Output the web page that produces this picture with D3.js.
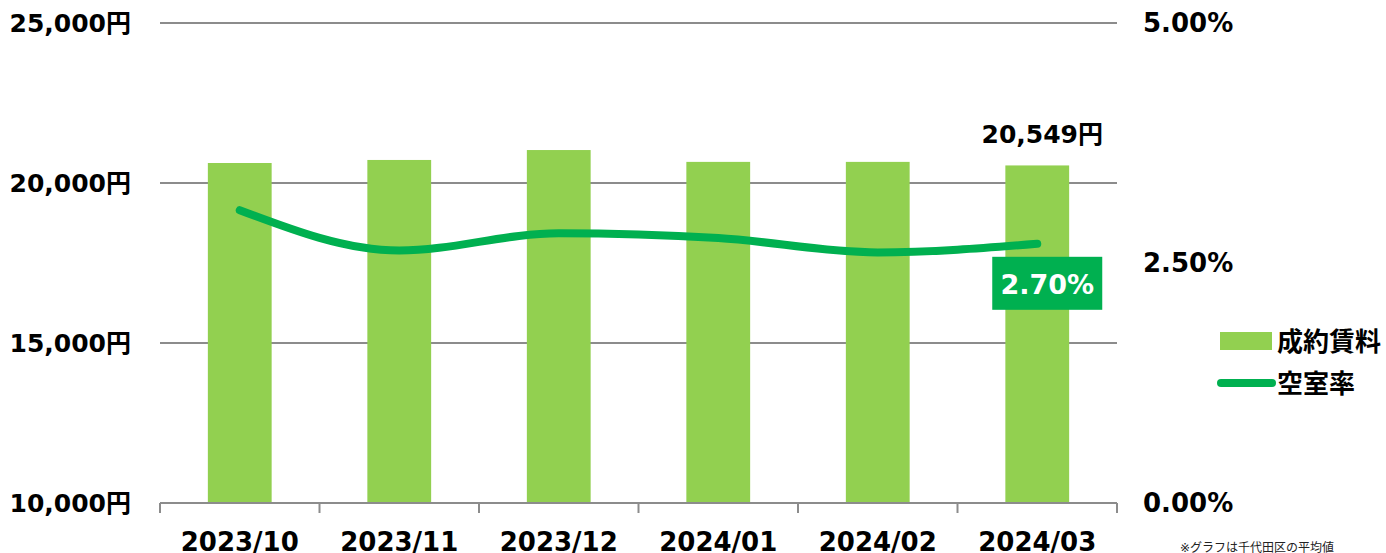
<!DOCTYPE html>
<html lang="ja">
<head>
<meta charset="UTF-8">
<title>成約賃料・空室率</title>
<style>
  body { margin: 0; background: #fff; }
  svg text { font-family: "DejaVu Sans", Verdana, "Noto Sans CJK JP", sans-serif; font-weight: bold; }
</style>
</head>
<body>
<div id="chart"></div>
<script src="https://d3js.org/d3.v7.min.js"></script>
<script>
// data
const months = ["2023/10", "2023/11", "2023/12", "2024/01", "2024/02", "2024/03"];
const rent = [20625, 20720, 21030, 20660, 20660, 20549];
const vacancy = [3.05, 2.63, 2.81, 2.76, 2.61, 2.70];
const rentTicks = [10000, 15000, 20000, 25000];
const rateTicks = [0, 2.5, 5];

const W = 1386, H = 553;
const plotL = 160, plotR = 1117, plotT = 23, plotB = 503;

const svg = d3.select("#chart").append("svg")
    .attr("width", W).attr("height", H);

const x = d3.scaleBand().domain(months).range([plotL, plotR]).paddingInner(0.6).paddingOuter(0.3);
const xb = d3.scaleBand().domain(months).range([plotL, plotR]);
const y = d3.scaleLinear().domain([10000, 25000]).range([plotB, plotT]);
const y2 = d3.scaleLinear().domain([0, 5]).range([plotB, plotT]);

// gridlines
svg.append("g")
    .selectAll("line")
    .data(rentTicks.slice(1))
    .join("line")
    .attr("x1", plotL).attr("x2", plotR)
    .attr("y1", d => y(d)).attr("y2", d => y(d))
    .attr("stroke", "#8c8c8c").attr("stroke-width", 2);

// left axis labels
svg.append("g")
    .selectAll("text")
    .data(rentTicks)
    .join("text")
    .attr("x", 131).attr("y", d => y(d) + 9)
    .attr("text-anchor", "end")
    .attr("font-size", 25)
    .text(d => d3.format(",")(d) + "円");

// right axis labels
svg.append("g")
    .selectAll("text")
    .data(rateTicks)
    .join("text")
    .attr("x", 1143).attr("y", d => y2(d) + 9)
    .attr("font-size", 26)
    .text(d => d.toFixed(2) + "%");

// bars
svg.append("g")
    .selectAll("rect")
    .data(months)
    .join("rect")
    .attr("x", d => x(d))
    .attr("width", x.bandwidth())
    .attr("y", (d, i) => y(rent[i]))
    .attr("height", (d, i) => plotB - y(rent[i]))
    .attr("fill", "#92d050");

// x axis
const ax = svg.append("g");
ax.append("line")
    .attr("x1", plotL).attr("x2", plotR)
    .attr("y1", plotB).attr("y2", plotB)
    .attr("stroke", "#8c8c8c").attr("stroke-width", 2);
ax.selectAll("line.tick")
    .data(months.concat([null]))
    .join("line")
    .attr("class", "tick")
    .attr("x1", (d, i) => plotL + i * xb.step())
    .attr("x2", (d, i) => plotL + i * xb.step())
    .attr("y1", plotB).attr("y2", plotB + 10)
    .attr("stroke", "#8c8c8c").attr("stroke-width", 2);
ax.selectAll("text")
    .data(months)
    .join("text")
    .attr("x", d => xb(d) + xb.bandwidth() / 2)
    .attr("y", 551)
    .attr("text-anchor", "middle")
    .attr("font-size", 26)
    .text(d => d);

// vacancy line
const cx = d => xb(d) + xb.bandwidth() / 2;
svg.append("path")
    .datum(months)
    .attr("fill", "none")
    .attr("stroke", "#00b050")
    .attr("stroke-width", 8)
    .attr("stroke-linecap", "round")
    .attr("d", d3.line()
        .x(d => cx(d))
        .y((d, i) => y2(vacancy[i]))
        .curve(d3.curveMonotoneX));

// last value labels
const last = months.length - 1;
svg.append("text")
    .attr("x", cx(months[last]) + 5)
    .attr("y", y(rent[last]) - 22)
    .attr("text-anchor", "middle")
    .attr("font-size", 25)
    .text(d3.format(",")(rent[last]) + "円");

const bx = cx(months[last]) + 10;
const by = y2(vacancy[last]) + 40;
svg.append("rect")
    .attr("x", bx - 55).attr("y", by - 27)
    .attr("width", 110).attr("height", 53)
    .attr("fill", "#00b050");
svg.append("text")
    .attr("x", bx).attr("y", by + 10)
    .attr("text-anchor", "middle")
    .attr("font-size", 27)
    .attr("fill", "#fff")
    .text(vacancy[last].toFixed(2) + "%");

// legend
const lg = svg.append("g");
lg.append("rect")
    .attr("x", 1220).attr("y", 332)
    .attr("width", 52).attr("height", 18)
    .attr("fill", "#92d050");
lg.append("text")
    .attr("x", 1277).attr("y", 351)
    .attr("font-size", 26)
    .text("成約賃料");
lg.append("line")
    .attr("x1", 1221).attr("x2", 1272)
    .attr("y1", 383).attr("y2", 383)
    .attr("stroke", "#00b050").attr("stroke-width", 8)
    .attr("stroke-linecap", "round");
lg.append("text")
    .attr("x", 1277).attr("y", 393)
    .attr("font-size", 26)
    .text("空室率");

// footnote
svg.append("text")
    .attr("x", 1180).attr("y", 552)
    .attr("font-size", 12)
    .style("font-weight", "normal")
    .attr("fill", "#222")
    .text("※グラフは千代田区の平均値");
</script>
</body>
</html>
